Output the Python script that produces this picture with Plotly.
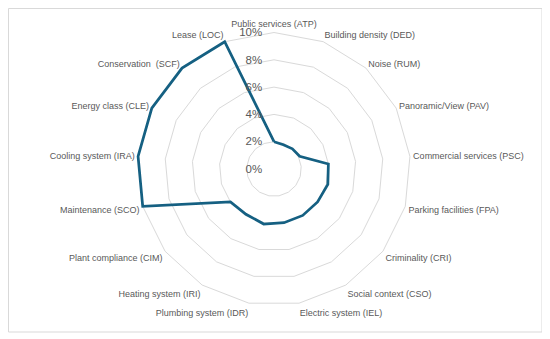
import plotly.graph_objects as go

categories = [
    "Public services (ATP)", "Building density (DED)", "Noise (RUM)",
    "Panoramic/View (PAV)", "Commercial services (PSC)", "Parking facilities (FPA)",
    "Criminality (CRI)", "Social context (CSO)", "Electric system (IEL)",
    "Plumbing system (IDR)", "Heating system (IRI)", "Plant compliance (CIM)",
    "Maintenance (SCO)", "Cooling system (IRA)", "Energy class (CLE)",
    "Conservation  (SCF)", "Lease (LOC)",
]
values = [2.0, 1.9, 2.0, 2.1, 4.0, 4.1, 4.0, 4.0, 4.0, 4.1, 3.9, 4.0,
          10.0, 10.0, 10.0, 10.0, 10.0]
radial_ticks = [0, 2, 4, 6, 8, 10]
radial_tick_labels = ["0%", "2%", "4%", "6%", "8%", "10%"]

# page body has an 8px margin; figure covers the visible area after it
W, H = 542, 331
RMAX = 10.2  # a little headroom so the line on the outer ring is not clipped
cx, cy = 266, 161
R = 136.5 * RMAX / 10
PAD = "\u00a0\u00a0\u00a0"  # keeps radial labels off the axis, as in the original

fig = go.Figure()
fig.add_trace(go.Scatterpolar(
    r=values + values[:1],
    theta=categories + categories[:1],
    mode="lines",
    line=dict(color="#156082", width=2.75),
    cliponaxis=False,
    hoverinfo="skip",
    showlegend=False,
))

fig.update_layout(
    width=W, height=H,
    margin=dict(l=0, r=0, t=0, b=0),
    paper_bgcolor="white",
    plot_bgcolor="white",
    showlegend=False,
    polar=dict(
        domain=dict(x=[(cx - R) / W, (cx + R) / W],
                    y=[(H - cy - R) / H, (H - cy + R) / H]),
        bgcolor="white",
        gridshape="linear",
        radialaxis=dict(
            range=[0, RMAX],
            tickvals=radial_ticks,
            ticktext=[t + PAD for t in radial_tick_labels],
            angle=90,
            side="counterclockwise",
            tickangle=90,
            showline=False,
            ticks="",
            showgrid=True,
            gridcolor="#d9d9d9",
            gridwidth=1,
            tickfont=dict(family="Liberation Sans, Arial, sans-serif", size=11.5, color="#595959"),
        ),
        angularaxis=dict(
            rotation=90,
            direction="clockwise",
            showgrid=False,
            showline=False,
            ticks="",
            tickfont=dict(family="Liberation Sans, Arial, sans-serif",
                          size=9, color="#595959"),
        ),
    ),
    shapes=[dict(
        type="rect", xref="paper", yref="paper",
        x0=0.5 / W, x1=534 / W, y0=1 - 324 / H, y1=1 - 0.5 / H,
        line=dict(color="#d9d9d9", width=1),
        fillcolor="rgba(0,0,0,0)",
        layer="below",
    )],
)

fig.write_html("out.html")
